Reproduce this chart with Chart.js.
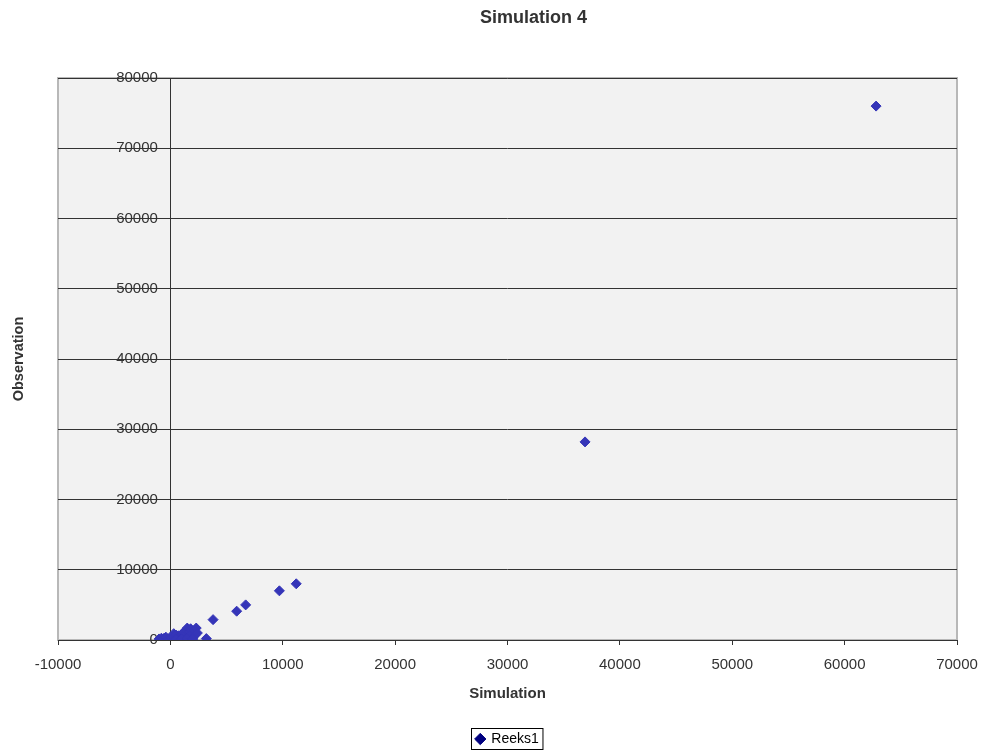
<!DOCTYPE html>
<html>
<head>
<meta charset="utf-8">
<script src="https://cdn.jsdelivr.net/npm/chart.js@4.4.0/dist/chart.umd.min.js"></script>
<style>
  html, body { margin:0; padding:0; background:#fff; }
  #wrap { width:981px; height:751px; }
</style>
</head>
<body>
<div id="wrap"><canvas id="chart" width="981" height="751"></canvas></div>
<script>
// ── DATA ─────────────────────────────────────────────
const seriesName = 'Reeks1';
const simX = [
  -1000, -800, -600, -400, -200, 0, 100, 200, 300, 400, 500, 600, 700, 800, 900,
  1000, 1100, 1200, 1300, 1400, 1500, 1600, 1700, 1800, 1900, 2000, 2100, 2200, 2300, 2400,
  500, 1000, 1500, 2000,
  3200, 3800, 5900, 6700, 9700, 11200, 36900, 62800
];
const obsY = [
  150, 250, 200, 400, 150, 100, 300, 500, 900, 250, 700, 150, 600, 400, 200,
  800, 1000, 300, 800, 1300, 1700, 500, 1100, 1600, 900, 400, 1300, 700, 1700, 1000,
  50, 100, 200, 150,
  200, 2900, 4100, 5000, 7000, 8000, 28200, 76000
];
const xTicks = { min: -10000, max: 70000, step: 10000 };
const yTicks = { min: 0, max: 80000, step: 10000 };

const points = simX.map((x, i) => ({ x: x, y: obsY[i] }));

// plot background, legend frame, title nudge
const framePlugin = {
  id: 'frame',
  afterLayout(c) {
    // title sits a little right of the plot centre in the original
    if (c.titleBlock) { c.titleBlock.left += 26; c.titleBlock.right += 26; }
  },
  beforeDraw(c) {
    const a = c.chartArea, ctx = c.ctx;
    ctx.save();
    ctx.fillStyle = '#f2f2f2';
    ctx.fillRect(a.left, a.top, a.right - a.left, a.bottom - a.top);
    ctx.strokeStyle = '#b8b8b8';
    ctx.lineWidth = 2;
    ctx.strokeRect(a.left, a.top, a.right - a.left, a.bottom - a.top);
    ctx.restore();
  },
  afterDraw(c) {
    const lg = c.legend;
    if (!lg || !lg.legendHitBoxes.length) return;
    const b = lg.legendHitBoxes[0], ctx = c.ctx;
    ctx.save();
    ctx.strokeStyle = '#000';
    ctx.lineWidth = 1;
    ctx.strokeRect(Math.round(b.left) - 4.5, Math.round(b.top) - 3.5, b.width + 9, b.height + 7);
    ctx.restore();
  }
};

Chart.defaults.font.family = '"Liberation Sans", Arial, sans-serif';
Chart.defaults.color = '#333';

new Chart(document.getElementById('chart'), {
  type: 'scatter',
  data: {
    datasets: [{
      label: seriesName,
      data: points,
      pointStyle: 'rectRot',
      pointRadius: 5,
      pointHoverRadius: 5,
      backgroundColor: '#3535b8',
      borderColor: '#3535b8',
      borderWidth: 1
    }]
  },
  options: {
    responsive: false,
    animation: false,
    layout: { padding: { left: 10, right: 24, top: 4, bottom: -5 } },
    plugins: {
      title: {
        display: true, text: 'Simulation 4', fullSize: false,
        color: '#333', font: { size: 18, weight: 'bold' }, padding: { top: 3, bottom: 49.4 }
      },
      legend: {
        position: 'bottom', fullSize: false,
        labels: {
          usePointStyle: true, pointStyle: 'rectRot', boxWidth: 8, boxHeight: 8,
          color: '#000', font: { size: 14 }, padding: 4,
          generateLabels: (c) => [{
            text: seriesName, pointStyle: 'rectRot', fillStyle: '#000080',
            strokeStyle: '#000080', lineWidth: 1, datasetIndex: 0
          }]
        }
      },
      tooltip: { enabled: false }
    },
    scales: {
      x: {
        type: 'linear', position: 'bottom',
        min: xTicks.min, max: xTicks.max,
        ticks: { stepSize: xTicks.step, color: '#333', font: { size: 15 }, padding: 11, maxRotation: 0,
                 callback: (v) => String(v) },
        grid: { drawOnChartArea: false, drawTicks: true, tickLength: 5, color: '#333' },
        border: { display: true, color: '#333' },
        title: { display: true, text: 'Simulation', color: '#333', font: { size: 15, weight: 'bold' }, padding: { top: 0, bottom: 25 } },
        // the big tick padding should not eat into the right margin
        afterFit: (s) => { s.paddingRight = 21; }
      },
      y: {
        type: 'linear', position: { x: 0 },
        min: yTicks.min, max: yTicks.max,
        // labels sit left of the x=0 axis; trailing spaces give the tick gap
        ticks: { stepSize: yTicks.step, color: '#333', font: { size: 15 }, padding: 2,
                 callback: (v) => String(v) + '   ' },
        grid: { color: '#333', tickLength: 5 },
        border: { display: true, color: '#333' },
        afterFit: (s) => { s.width = 0; }
      },
      yt: {
        type: 'linear', position: 'left', display: true,
        min: yTicks.min, max: yTicks.max,
        ticks: { display: false },
        grid: { display: false },
        border: { display: false },
        title: { display: true, text: 'Observation', color: '#333', font: { size: 14.5, weight: 'bold' }, padding: 0 },
        afterFit: (s) => { s.width = 48; }
      }
    }
  },
  plugins: [framePlugin]
});
</script>
</body>
</html>
